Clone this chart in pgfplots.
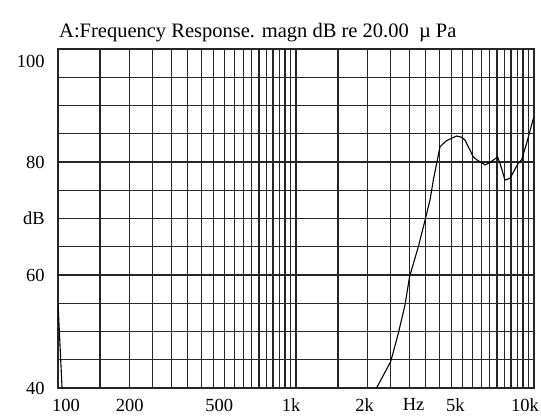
\documentclass[border=0pt]{standalone}
\usepackage{fontspec}
\setmainfont{Liberation Serif}
\usepackage{pgfplots}
\pgfplotsset{compat=1.18}
\newcommand{\sh}[2]{\hspace*{#1}#2}
\begin{document}
\fontsize{18.5bp}{21bp}\selectfont
\begin{tikzpicture}
\begin{axis}[
  scale only axis,
  width=476bp, height=339bp,
  at={(0,0)}, anchor=south west,
  xmode=log,
  xmin=100, xmax=10000,
  ymin=40, ymax=100,
  xtick={100,150,200,250,300,350,400,450,500,550,600,650,700,750,800,850,900,950,1000,1500,2000,2500,3000,3500,4000,4500,5000,5500,6000,6500,7000,7500,8000,8500,9000,9500,10000},
  xticklabels={\sh{16bp}{100},{},200,{},{},{},{},{},\sh{-10bp}{500},{},{},{},{},{},{},{},{},{},\sh{-10bp}{1k},{},\sh{-6bp}{2k},{},\sh{8bp}{Hz},{},{},{},\sh{-14bp}{5k},{},{},{},{},{},{},{},{},{},\sh{-18bp}{10k}},
  ytick={40,45,50,55,60,65,70,75,80,85,90,95,100},
  yticklabels={40,{},{},{},60,{},dB,{},80,{},{},{},\raisebox{-12bp}[\height][\depth]{100}},
  grid=major,
  major grid style={black!85, line width=1.4bp},
  axis line style={black!85, line width=1.4bp},
  major tick length=0pt, minor tick length=0pt,
  tick label style={font=\fontsize{18.5bp}{21bp}\selectfont},
  yticklabel style={xshift=-7bp},
  xticklabel style={yshift=-4.5bp},
  title={A:Frequency Response. magn dB re 20.00\ \ µ Pa},
  title style={at={(0,1)}, anchor=base west, xshift=1bp, yshift=6bp, inner sep=0pt, font=\fontsize{20.5bp}{23bp}\selectfont},
  clip=true,
]
\addplot[black, line width=1.1bp] coordinates {(100,55) (104,40)};
\addplot[black, line width=1.1bp] coordinates {
(2180,40.0) (2500,44.7) (2692,49.7) (2871,54.7) (3000,59.7) (3266,65.0)
(3500,70.0) (3656,73.3) (3715,75.0) (3776,76.8) (4027,82.7) (4295,83.8)
(4730,84.6) (4950,84.4) (5128,83.9) (5383,82.1) (5556,80.9) (5743,80.4)
(6223,79.5) (6531,79.9) (7031,80.9) (7194,79.8) (7555,76.8) (7925,77.1)
(8590,79.8) (8872,80.4) (9311,83.3) (9890,87.4) (10000,88.0)
};
\end{axis}
\pgfresetboundingbox
\useasboundingbox (-58bp,-31bp) rectangle (483bp,388bp);
\end{tikzpicture}
\end{document}
